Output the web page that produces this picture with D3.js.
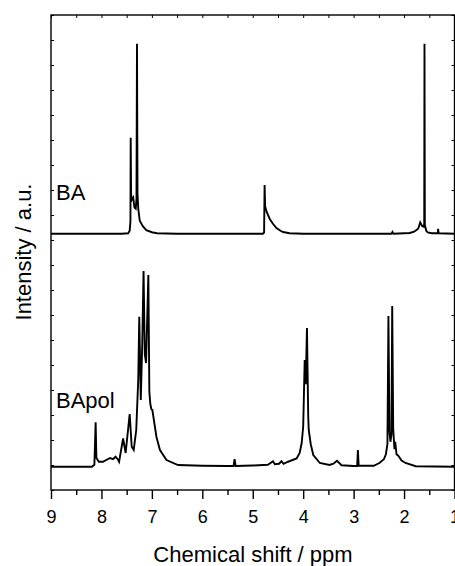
<!DOCTYPE html>
<html>
<head>
<meta charset="utf-8">
<script src="https://cdn.jsdelivr.net/npm/d3@7"></script>
<style>
  body { margin: 0; background: #fff; }
  text { font-family: "Liberation Sans", Arial, sans-serif; }
</style>
</head>
<body>
<div class="canva"></div>
<script>
// spectra: ppm, intensity above own baseline
const baPpm = [9.0, 8.0, 7.6, 7.47, 7.44, 7.425, 7.42, 7.412, 7.40, 7.37, 7.345, 7.32, 7.305, 7.295, 7.285, 7.27, 7.24, 7.18, 7.11, 7.0, 6.9, 6.5,
  4.8, 4.775, 4.765, 4.755, 4.72, 4.66, 4.6, 4.53, 4.45, 4.4, 4.27, 4.0,
  2.25, 2.23, 2.21, 1.89, 1.8, 1.72, 1.68, 1.64, 1.61, 1.6, 1.595, 1.588, 1.56, 1.53, 1.45, 1.33, 1.325, 1.315, 1.0];
const baInt = [0, 0, 0, 0.02, 0.12, 0.5, 3.84, 1.6, 1.35, 1.45, 1.05, 1.0, 1.4, 7.6, 1.6, 1.0, 0.52, 0.3, 0.14, 0.06, 0.02, 0,
  0, 0.05, 1.95, 1.1, 0.85, 0.58, 0.4, 0.23, 0.12, 0.07, 0.02, 0,
  0, 0.07, 0, 0.03, 0.08, 0.2, 0.45, 0.3, 0.28, 0.4, 7.6, 0.35, 0.12, 0.05, 0.02, 0.02, 0.2, 0.02, 0];

const polPpm = [9.0, 8.5, 8.19, 8.14, 8.115, 8.10, 8.05, 7.97, 7.83, 7.77, 7.72, 7.67, 7.65, 7.57, 7.52, 7.44, 7.40, 7.36, 7.31, 7.27, 7.25, 7.22,
  7.19, 7.165, 7.14, 7.115, 7.07, 7.05, 7.03, 7.01, 6.99, 6.91, 6.84, 6.71, 6.48, 6.0, 5.5, 5.38, 5.36, 5.34, 5.0, 4.7, 4.6, 4.56, 4.48, 4.43,
  4.39, 4.3, 4.13, 4.07, 4.03, 4.0, 3.97, 3.95, 3.925, 3.90, 3.89, 3.85, 3.80, 3.67, 3.48, 3.40, 3.33, 3.24, 3.0, 2.93, 2.915, 2.90, 2.6, 2.49,
  2.40, 2.36, 2.33, 2.31, 2.29, 2.27, 2.25, 2.235, 2.215, 2.19, 2.175, 2.15, 2.12, 2.10, 2.05, 1.97, 1.77, 1.0];
const polInt = [0, 0, 0, 0.08, 1.78, 0.35, 0.2, 0.2, 0.35, 0.3, 0.4, 0.28, 0.2, 1.13, 0.55, 2.11, 0.8, 0.67, 1.47, 3.5, 6.0, 2.67,
  5.0, 7.83, 4.5, 4.15, 7.67, 3.0, 2.5, 2.3, 2.27, 1.2, 0.67, 0.27, 0.07, 0.04, 0.03, 0.03, 0.3, 0.03, 0.05, 0.08, 0.22, 0.1, 0.12, 0.22,
  0.12, 0.2, 0.33, 0.55, 0.95, 1.6, 4.27, 3.3, 5.55, 2.0, 1.47, 0.9, 0.47, 0.15, 0.07, 0.12, 0.24, 0.06, 0.03, 0.03, 0.67, 0.05, 0.04, 0.15,
  0.3, 0.5, 0.9, 6.03, 1.4, 1.0, 1.3, 6.43, 1.5, 0.7, 1.0, 0.5, 0.45, 0.4, 0.25, 0.15, 0.02, 0];

const baOffset = 10.25;
const polOffset = 0.93;

const majorTicks = [9, 8, 7, 6, 5, 4, 3, 2, 1];
const minorTicks = [8.5, 7.5, 6.5, 5.5, 4.5, 3.5, 2.5, 1.5];
const halfTicks = d3.range(18, 1, -1).map(d => d / 2);
const yTicks = d3.range(0, 20);

const WIDTH = 455;
const HEIGHT = 566;

const svg = d3.select(".canva").append("svg")
    .attr("width", WIDTH)
    .attr("height", HEIGHT);

const x = d3.scaleLinear().domain([9, 1]).range([51, 454.5]);
const y = d3.scaleLinear().domain([0, 19]).range([490, 15]);

const line = d3.line()
    .x(d => x(d[0]))
    .y(d => y(d[1]));

const baData = baPpm.map((p, i) => [p, baInt[i] + baOffset]);
const polData = polPpm.map((p, i) => [p, polInt[i] + polOffset]);

svg.append("path")
    .datum(baData)
    .attr("d", line)
    .attr("fill", "none")
    .attr("stroke", "black")
    .attr("stroke-width", 1.9);

svg.append("path")
    .datum(polData)
    .attr("d", line)
    .attr("fill", "none")
    .attr("stroke", "black")
    .attr("stroke-width", 1.9);

// frame
svg.append("rect")
    .attr("x", x(9))
    .attr("y", y(19))
    .attr("width", x(1) - x(9))
    .attr("height", y(0) - y(19))
    .attr("fill", "none")
    .attr("stroke", "black")
    .attr("stroke-width", 1.4);

// bottom axis, major ticks with labels
const bottomAxis = svg.append("g")
    .attr("transform", `translate(0, ${y(0)})`)
    .call(d3.axisBottom(x).tickValues(majorTicks).tickFormat(d3.format("d")).tickSize(9).tickSizeOuter(0).tickPadding(11));
bottomAxis.select(".domain").remove();
bottomAxis.selectAll("line").attr("stroke-width", 1.4);
bottomAxis.selectAll("text").attr("font-size", 18).attr("font-family", "Liberation Sans, Arial, sans-serif");

const bottomMinor = svg.append("g")
    .attr("transform", `translate(0, ${y(0)})`)
    .call(d3.axisBottom(x).tickValues(minorTicks).tickFormat("").tickSize(5).tickSizeOuter(0));
bottomMinor.select(".domain").remove();
bottomMinor.selectAll("line").attr("stroke-width", 1.4);

// top ticks, inward
const topAxis = svg.append("g")
    .attr("transform", `translate(0, ${y(19)})`)
    .call(d3.axisTop(x).tickValues(halfTicks).tickFormat("").tickSize(-3).tickSizeOuter(0));
topAxis.select(".domain").remove();

// left and right ticks, inward, no labels
const leftAxis = svg.append("g")
    .attr("transform", `translate(${x(9)}, 0)`)
    .call(d3.axisLeft(y).tickValues(yTicks).tickFormat("").tickSize(-3).tickSizeOuter(0));
leftAxis.select(".domain").remove();

const rightAxis = svg.append("g")
    .attr("transform", `translate(${x(1)}, 0)`)
    .call(d3.axisRight(y).tickValues(yTicks).tickFormat("").tickSize(-3).tickSizeOuter(0));
rightAxis.select(".domain").remove();

// labels
svg.append("text")
    .attr("x", 56)
    .attr("y", 200)
    .attr("font-size", 22)
    .text("BA");

svg.append("text")
    .attr("x", 56)
    .attr("y", 408)
    .attr("font-size", 22)
    .text("BApol");

svg.append("text")
    .attr("x", 253)
    .attr("y", 562)
    .attr("text-anchor", "middle")
    .attr("font-size", 22)
    .text("Chemical shift / ppm");

svg.append("text")
    .attr("transform", "translate(31, 252) rotate(-90)")
    .attr("text-anchor", "middle")
    .attr("font-size", 22)
    .text("Intensity / a.u.");
</script>
</body>
</html>
